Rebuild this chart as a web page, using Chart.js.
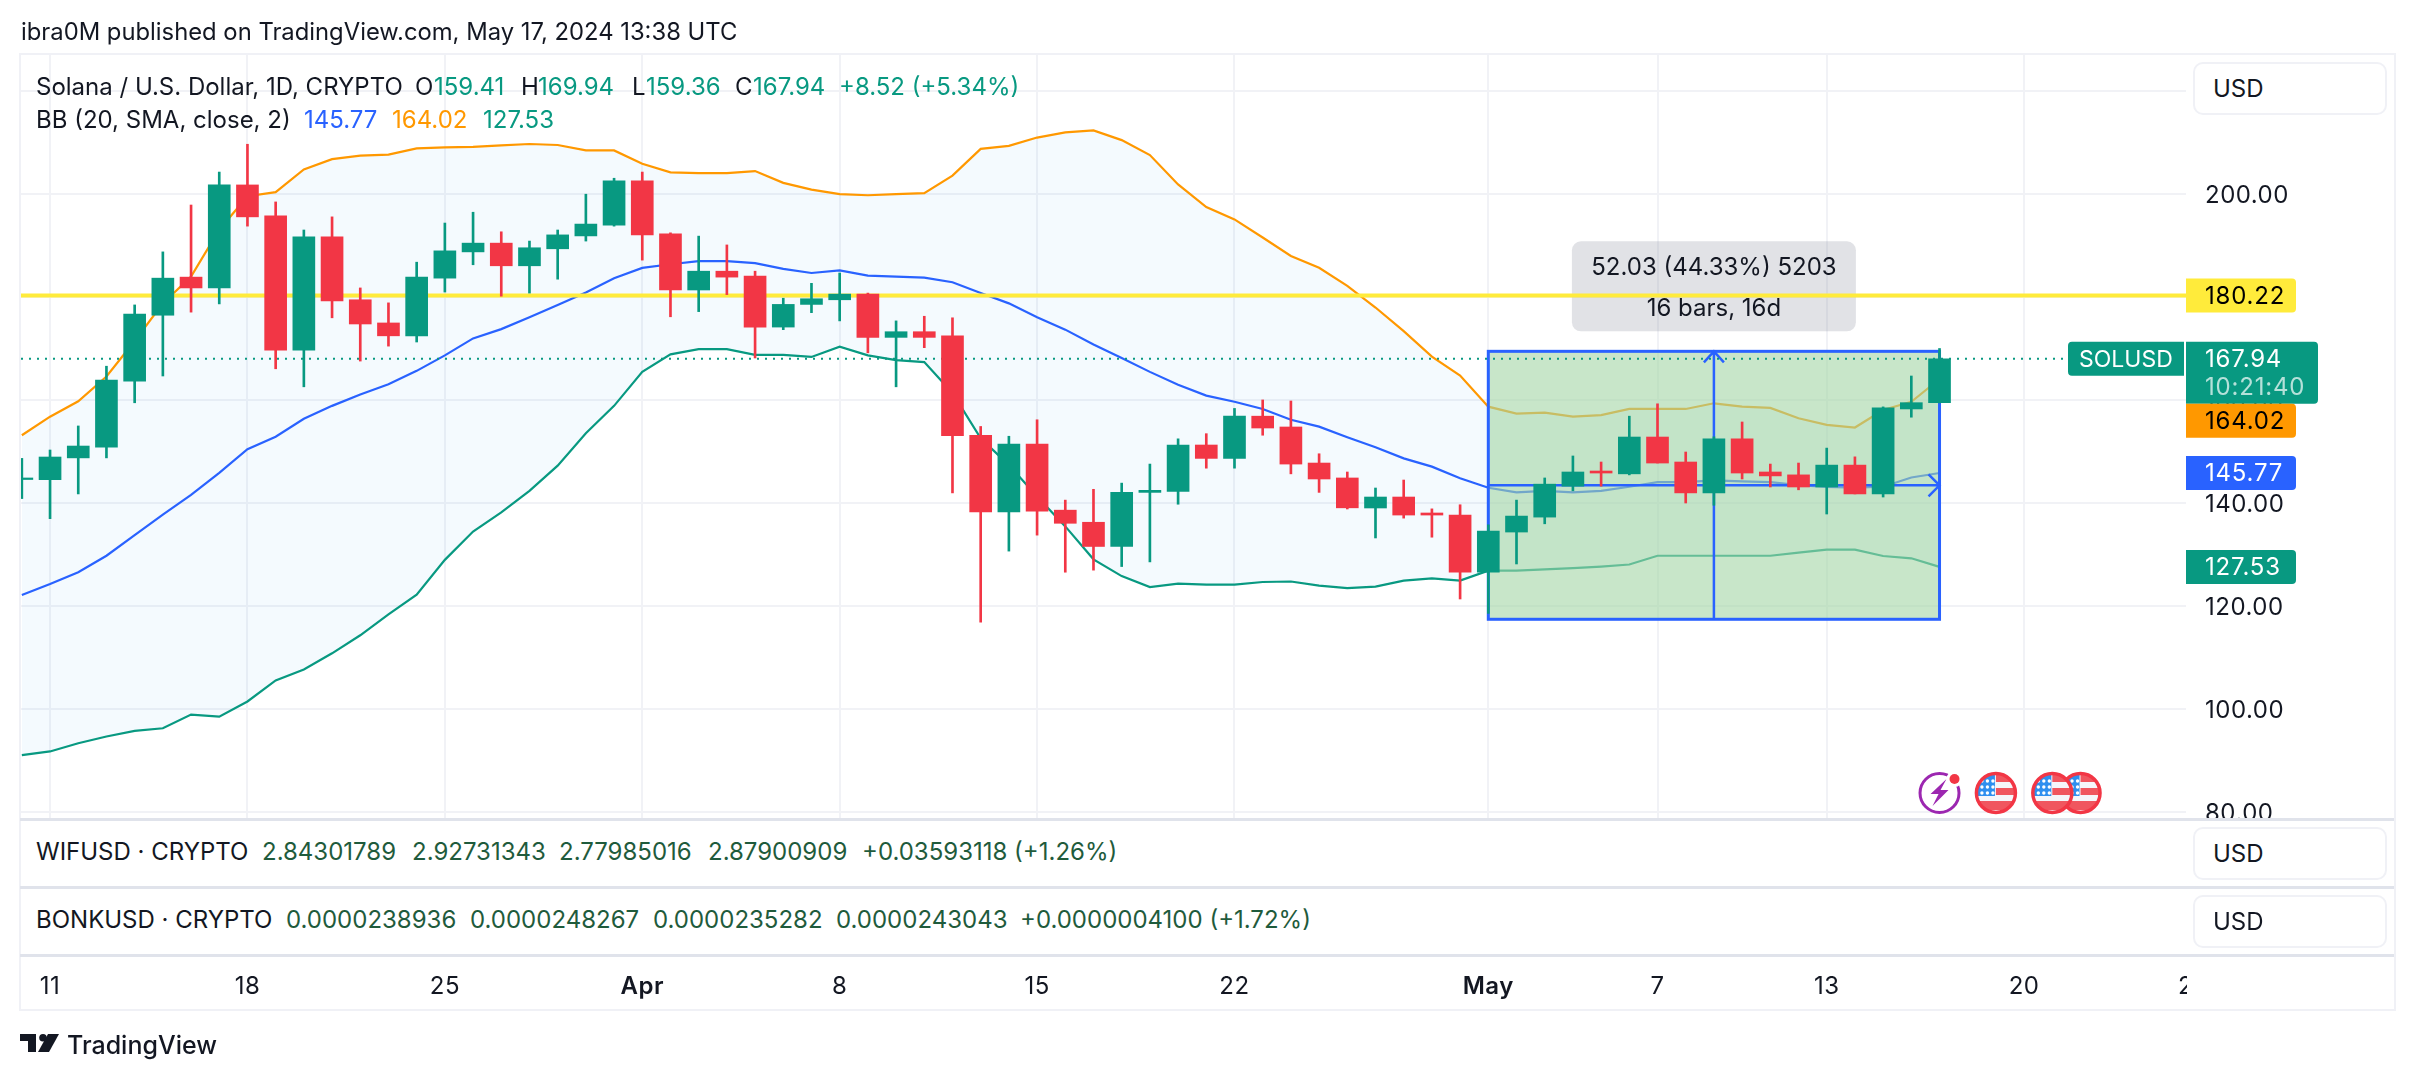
<!DOCTYPE html>
<html>
<head>
<meta charset="utf-8">
<title>SOLUSD</title>
<script src="https://cdn.jsdelivr.net/npm/chart.js@4/dist/chart.umd.js"></script>
<style>
    html, body { margin: 0; padding: 0; background: #fff; }
    body { width: 2414px; height: 1080px; position: relative; overflow: hidden; font-family: Inter, "Noto Sans", sans-serif; color: #131722; }
    canvas { position: absolute; left: 0; top: 0; }
    .t { position: absolute; white-space: nowrap; transform: translateY(-50%); font-size: 24px; line-height: 28px; }
    .box { position: absolute; box-sizing: border-box; }
    .usd { position: absolute; box-sizing: border-box; left: 2193px; width: 194px; height: 53px; border: 2px solid #f0f1f6; border-radius: 10px; background: #fff; }
</style>
</head>
<body>
<canvas id="chart" width="2414" height="1080"></canvas>
<div id="overlay"></div>
<script>
// Serie diaria SOLUSD, 10 mar a 17 may 2024
const dates = [
    '03-10','03-11','03-12','03-13','03-14','03-15','03-16','03-17','03-18','03-19','03-20','03-21','03-22','03-23','03-24','03-25','03-26','03-27','03-28','03-29','03-30','03-31',
    '04-01','04-02','04-03','04-04','04-05','04-06','04-07','04-08','04-09','04-10','04-11','04-12','04-13','04-14','04-15','04-16','04-17','04-18','04-19','04-20','04-21','04-22','04-23','04-24','04-25','04-26','04-27','04-28','04-29','04-30',
    '05-01','05-02','05-03','05-04','05-05','05-06','05-07','05-08','05-09','05-10','05-11','05-12','05-13','05-14','05-15','05-16','05-17'
];
const opens = [
    144.5,144.47,148.7,150.8,163.6,176.4,183.8,181.7,201.7,195.7,169.6,191.6,179.4,174.9,172.4,183.6,188.7,190.4,186.0,189.3,191.8,193.9,
    202.5,192.2,181.3,184.95,184.0,174.1,178.5,179.4,180.5,172.1,173.2,172.4,153.1,138.2,151.4,138.55,136.2,131.5,142.0,142.2,151.2,148.6,156.8,154.7,147.7,144.8,138.97,141.1,138.0,137.6,
    126.5,134.3,137.2,143.2,146.15,145.6,152.75,147.9,141.9,152.4,145.96,145.4,143.05,147.3,141.7,158.2,159.41
];
const closes = [
    144.8,148.87,151.0,163.8,176.6,183.6,181.7,201.7,195.5,169.6,191.6,179.2,174.7,172.4,183.8,188.9,190.4,186.0,189.5,192.0,194.1,202.5,
    192.0,181.3,184.95,183.8,174.1,178.5,179.6,180.5,172.1,173.2,172.1,153.0,138.2,151.4,138.35,136.0,131.5,142.0,142.4,151.2,148.6,156.8,154.5,147.5,144.6,139.0,141.1,137.6,137.6,126.5,
    134.5,137.4,143.6,145.96,145.76,152.75,147.7,141.9,152.4,145.76,145.2,143.05,147.3,141.7,158.4,159.42,167.94
];
const highs = [
    148.6,150.23,154.9,166.5,178.4,188.7,197.8,204.2,209.6,198.4,192.95,195.5,181.7,178.8,186.7,194.3,196.4,192.6,190.8,192.95,199.9,203.0,
    204.2,192.4,191.76,190.05,184.95,179.7,182.6,184.6,180.7,175.3,176.2,175.9,154.8,152.9,156.1,140.5,142.6,143.8,147.5,152.4,153.4,158.3,159.95,159.75,149.5,145.96,142.85,144.4,138.8,139.6,
    135.7,140.5,144.8,149.07,147.9,156.8,159.2,149.84,152.8,155.67,147.5,147.7,150.6,148.9,158.6,164.6,169.94
];
const lows = [
    140.8,136.9,141.7,148.7,159.4,164.6,177.0,178.6,193.7,166.0,162.5,175.9,167.5,170.4,171.2,180.9,186.2,180.1,180.7,183.4,190.8,193.7,
    187.1,176.1,177.1,180.4,168.1,173.6,176.9,175.3,169.1,162.5,170.1,141.9,116.8,130.6,133.7,126.5,126.9,127.6,128.5,139.7,146.7,146.7,153.1,145.6,142.0,138.78,133.15,137.0,133.3,121.3,
    118.5,128.1,135.9,142.3,143.2,145.4,147.7,139.94,139.5,144.6,143.05,142.5,137.8,141.7,141.1,156.6,159.36
];

// Bandas de Bollinger
const bbUpper = [
    153.1,156.7,159.7,164.5,171.4,178.7,183.9,193.0,199.5,200.3,204.7,206.7,207.4,207.6,208.8,209.0,209.1,209.4,209.65,209.45,208.4,208.4,
    205.8,204.15,204.0,204.0,204.4,202.1,200.8,199.9,199.7,199.9,200.1,203.5,208.7,209.3,210.9,211.9,212.3,210.4,207.5,201.8,197.4,195.0,191.5,187.9,185.6,182.1,177.9,173.3,168.35,164.7,
    158.65,157.3,157.5,156.7,157.0,158.2,158.2,158.2,159.3,158.65,158.4,156.4,155.1,154.6,158.0,159.6,164.02
];
const bbBasis = [
    122.07,124.2,126.5,129.7,133.7,137.7,141.5,145.8,150.4,152.8,156.3,158.8,161.0,163.0,165.6,168.6,171.9,173.7,176.0,178.4,180.8,183.6,
    185.6,186.3,186.9,186.9,186.5,185.4,184.6,185.1,184.1,183.9,183.7,182.8,180.7,178.7,176.0,173.6,170.7,168.1,165.4,162.9,160.8,159.6,158.2,156.1,154.76,152.7,150.75,148.6,147.0,144.75,
    142.9,142.0,142.3,142.0,142.3,143.1,144.0,144.0,144.35,144.15,144.0,143.4,143.05,142.9,143.1,144.9,145.77
];
const bbLower = [
    91.0,91.7,93.3,94.6,95.7,96.2,98.85,98.45,101.4,105.5,107.6,110.75,114.25,118.3,122.15,128.9,134.4,138.1,142.3,147.2,153.5,158.8,
    165.4,168.8,169.8,169.8,168.7,168.7,168.3,170.3,168.6,167.7,167.3,161.3,152.5,147.3,141.2,135.4,129.0,125.75,123.6,124.3,124.1,124.1,124.6,124.7,123.9,123.4,123.7,124.86,125.3,124.86,
    126.8,126.8,127.05,127.3,127.6,128.0,129.7,129.7,129.7,129.7,129.7,130.3,130.9,130.9,129.65,129.2,127.53
];

// Ejes
const priceTicks = [80, 100, 120, 140, 160, 180, 200, 220];
const tickDates = ['03-11','03-18','03-25','04-01','04-08','04-15','04-22','05-01','05-07','05-13','05-20','05-26'];
const tickLabels = ['11','18','25','Apr','8','15','22','May','7','13','20','26'];

// Niveles y dibujos
const hLine = 180.22;
const lastClose = 167.94;
const measureFrom = '05-01';
const measureTo = '05-17';
const measureLow = 117.36;
const measureHigh = 169.39;
const eventDates = ['05-17', '05-22', '05-21', '05-19'];

const GREEN = '#089981', RED = '#f23645', BLUE = '#2962ff', ORANGE = '#ff9800', YELLOW = '#ffeb3b';
const FONT = 'Inter, "Noto Sans", sans-serif';

function dayOf(d) {
    const [m, day] = d.split('-').map(Number);
    return (Date.UTC(2024, m - 1, day) - Date.UTC(2024, 2, 10)) / 864e5;
}
const days = dates.map(dayOf);
const xMin = -0.03, xMax = 76.74, yMin = 78.58, yMax = 226.93;

function series(values) { return values.map((v, i) => ({ x: days[i], y: v })); }
const candleColors = closes.map((c, i) => c >= opens[i] ? GREEN : RED);

function roundBox(ctx, x, y, w, h, r, fill) {
    ctx.beginPath();
    ctx.roundRect(x, y, w, h, r);
    ctx.fillStyle = fill;
    ctx.fill();
}

// Caja de medicion: va debajo de las velas y encima de las bandas
const measurePlugin = {
    id: 'measure',
    afterDatasetDraw(chart, args) {
        if (chart.data.datasets[args.index].label !== 'BB lower') return;
        const { ctx, scales: { x, y } } = chart;
        const x0 = x.getPixelForValue(dayOf(measureFrom)), x1 = x.getPixelForValue(dayOf(measureTo));
        const y0 = y.getPixelForValue(measureHigh), y1 = y.getPixelForValue(measureLow);
        const xm = (x0 + x1) / 2, ym = (y0 + y1) / 2;
        ctx.save();
        ctx.fillStyle = 'rgba(163,213,165,0.6)';
        ctx.fillRect(x0, y0, x1 - x0, y1 - y0);
        ctx.strokeStyle = BLUE;
        ctx.lineWidth = 3;
        ctx.strokeRect(x0, y0, x1 - x0, y1 - y0);
        ctx.lineWidth = 2.5;
        ctx.beginPath();
        ctx.moveTo(xm, y1); ctx.lineTo(xm, y0);
        ctx.moveTo(xm - 10, y0 + 11); ctx.lineTo(xm, y0); ctx.lineTo(xm + 10, y0 + 11);
        ctx.moveTo(x0, ym); ctx.lineTo(x1, ym);
        ctx.moveTo(x1 - 11, ym - 11); ctx.lineTo(x1, ym); ctx.lineTo(x1 - 11, ym + 11);
        ctx.stroke();
        // etiqueta
        roundBox(ctx, xm - 142, y0 - 110, 284, 90, 9, 'rgba(120,123,140,0.22)');
        ctx.fillStyle = '#131722';
        ctx.font = '24px ' + FONT;
        ctx.letterSpacing = '0px';
        ctx.textAlign = 'center';
        ctx.textBaseline = 'middle';
        ctx.fillText('52.03 (44.33%) 5203', xm, y0 - 84);
        ctx.fillText('16 bars, 16d', xm, y0 - 43);
        ctx.restore();
    }
};

function priceTag(ctx, right, y, text, fill, color) {
    const h = 34;
    roundBox(ctx, 2186, y - h / 2, right - 2186, h, [0, 4, 4, 0], fill);
    ctx.fillStyle = color;
    ctx.fillText(text, 2205, y + 1);
}

function drawFlag(ctx, cx, cy) {
    const r = 19.5;
    ctx.save();
    ctx.beginPath(); ctx.arc(cx, cy, r, 0, Math.PI * 2);
    ctx.fillStyle = '#f5f6fa'; ctx.fill();
    ctx.clip();
    ctx.fillStyle = '#f0565f';
    ctx.fillRect(cx, cy - 18, 20, 7);
    ctx.fillRect(cx, cy - 5, 20, 7);
    ctx.fillRect(cx - 20, cy + 8, 40, 9);
    ctx.fillStyle = '#2f8fef';
    ctx.fillRect(cx - 20, cy - 18, 19, 21);
    ctx.fillStyle = '#fff';
    for (let i = 0; i < 3; i++) {
        for (let j = 0; j < 3; j++) {
            ctx.beginPath(); ctx.arc(cx - 14 + i * 5.5, cy - 12 + j * 6, 1.7, 0, Math.PI * 2); ctx.fill();
        }
    }
    ctx.restore();
    ctx.beginPath(); ctx.arc(cx, cy, r, 0, Math.PI * 2);
    ctx.strokeStyle = RED; ctx.lineWidth = 3.5; ctx.stroke();
}

function drawBolt(ctx, cx, cy) {
    ctx.beginPath(); ctx.arc(cx, cy, 19.5, 0, Math.PI * 2);
    ctx.strokeStyle = '#9c27b0'; ctx.lineWidth = 3; ctx.stroke();
    ctx.beginPath();
    ctx.moveTo(cx + 7, cy - 14); ctx.lineTo(cx - 9, cy + 1); ctx.lineTo(cx - 1, cy + 1);
    ctx.lineTo(cx - 7, cy + 13); ctx.lineTo(cx + 9, cy - 3); ctx.lineTo(cx + 1, cy - 3);
    ctx.closePath();
    ctx.fillStyle = '#9c27b0'; ctx.fill();
    ctx.beginPath(); ctx.arc(cx + 15, cy - 14, 8, 0, Math.PI * 2);
    ctx.fillStyle = '#fff'; ctx.fill();
    ctx.beginPath(); ctx.arc(cx + 15, cy - 14, 5, 0, Math.PI * 2);
    ctx.fillStyle = RED; ctx.fill();
}

// Etiquetas del eje de precios y marcadores de eventos
const axisTagsPlugin = {
    id: 'axisTags',
    beforeDraw(chart) { chart.ctx.letterSpacing = '0.5px'; },
    afterDraw(chart) {
        const { ctx, scales: { x, y } } = chart;
        ctx.save();
        ctx.font = '23px ' + FONT;
        ctx.letterSpacing = '0px';
        ctx.textAlign = 'left';
        ctx.textBaseline = 'middle';

        const yClose = y.getPixelForValue(lastClose);
        roundBox(ctx, 2068, yClose - 17, 116, 34, [4, 0, 0, 4], GREEN);
        ctx.fillStyle = '#fff';
        ctx.fillText('SOLUSD', 2079, yClose + 1);

        ctx.font = '24px ' + FONT;
        ctx.letterSpacing = '0.8px';
        priceTag(ctx, 2296, y.getPixelForValue(hLine), '180.22', YELLOW, '#000');
        roundBox(ctx, 2186, yClose - 17, 132, 62, [0, 4, 4, 0], GREEN);
        ctx.fillStyle = '#fff';
        ctx.fillText('167.94', 2205, yClose + 1);
        ctx.fillStyle = 'rgba(255,255,255,0.7)';
        ctx.fillText('10:21:40', 2205, yClose + 29);
        // BB superior va corrida debajo del precio, como en el original
        priceTag(ctx, 2296, yClose + 62, '164.02', ORANGE, '#000');
        priceTag(ctx, 2296, y.getPixelForValue(bbBasis[bbBasis.length - 1]), '145.77', BLUE, '#fff');
        priceTag(ctx, 2296, y.getPixelForValue(bbLower[bbLower.length - 1]), '127.53', GREEN, '#fff');
        ctx.restore();

        ctx.save();
        const yEvent = chart.chartArea.bottom - 26;
        drawBolt(ctx, x.getPixelForValue(dayOf(eventDates[0])), yEvent);
        eventDates.slice(1).forEach(d => drawFlag(ctx, x.getPixelForValue(dayOf(d)), yEvent));
        ctx.restore();
    }
};

function lineSet(label, data, color, order, extra) {
    return Object.assign({ type: 'line', label, data, borderColor: color, borderWidth: 2.2, pointRadius: 0, tension: 0, fill: false, order }, extra);
}

new Chart(document.getElementById('chart'), {
    type: 'bar',
    data: {
        datasets: [
            lineSet('BB upper', series(bbUpper), ORANGE, 9, { fill: { target: 2 }, backgroundColor: 'rgba(33,150,243,0.05)' }),
            lineSet('BB basis', series(bbBasis), BLUE, 8),
            lineSet('BB lower', series(bbLower), GREEN, 7),
            lineSet('Level', [{ x: xMin, y: hLine }, { x: xMax, y: hLine }], YELLOW, 5, { borderWidth: 4 }),
            lineSet('Last', [{ x: xMin, y: lastClose }, { x: xMax, y: lastClose }], GREEN, 4, { borderWidth: 2, borderDash: [2, 6] }),
            {
                label: 'Wicks', order: 3, grouped: false, barThickness: 2, borderWidth: 0,
                backgroundColor: candleColors,
                data: days.map((d, i) => ({ x: d, y: [lows[i], highs[i]] }))
            },
            {
                label: 'Bodies', order: 2, grouped: false, barThickness: 22, borderWidth: 0,
                backgroundColor: candleColors,
                data: days.map((d, i) => ({ x: d, y: [opens[i], closes[i]] }))
            }
        ]
    },
    options: {
        responsive: false,
        animation: false,
        devicePixelRatio: 1,
        layout: { autoPadding: false, padding: { left: 21, top: 55, right: 0, bottom: 0 } },
        plugins: { legend: { display: false }, tooltip: { enabled: false } },
        scales: {
            x: {
                type: 'linear',
                min: xMin,
                max: xMax,
                offset: false,
                afterBuildTicks(scale) { scale.ticks = tickDates.map(d => ({ value: dayOf(d) })); },
                afterFit(scale) { scale.height = 261; scale.paddingLeft = 0; scale.paddingRight = 0; },
                border: { display: false },
                grid: {
                    offset: false,
                    drawTicks: false,
                    lineWidth: 2,
                    color: c => (c.tick && c.tick.value > xMax) ? 'rgba(0,0,0,0)' : '#f1f2f6'
                },
                ticks: {
                    autoSkip: false,
                    maxRotation: 0,
                    padding: 153,
                    color: '#131722',
                    font: c => ({ family: FONT, size: 24, weight: (c.tick && /[A-Z]/.test(c.tick.label)) ? '600' : '400' }),
                    callback: (v) => tickLabels[tickDates.findIndex(d => dayOf(d) === v)]
                }
            },
            y: {
                type: 'linear',
                position: 'right',
                min: yMin,
                max: yMax,
                afterBuildTicks(scale) { scale.ticks = priceTicks.map(v => ({ value: v })); },
                afterFit(scale) { scale.width = 228; scale.paddingTop = 0; scale.paddingBottom = 0; },
                border: { display: false },
                grid: { drawTicks: false, lineWidth: 2, color: '#f1f2f6' },
                ticks: {
                    padding: 19,
                    labelOffset: 2,
                    color: '#131722',
                    font: { family: FONT, size: 24 },
                    callback: v => v === 220 ? '' : v.toFixed(2)
                }
            }
        }
    },
    plugins: [measurePlugin, axisTagsPlugin]
});

// Texto y marcos de TradingView alrededor del canvas
const overlay = document.getElementById('overlay');
function addText(x, y, text, color, weight, size) {
    const el = document.createElement('div');
    el.className = 't';
    el.style.left = x + 'px';
    el.style.top = y + 'px';
    el.style.color = color || '#131722';
    if (weight) el.style.fontWeight = weight;
    if (size) el.style.fontSize = size + 'px';
    el.textContent = text;
    overlay.appendChild(el);
}
function addBox(x, y, w, h, bg) {
    const el = document.createElement('div');
    el.className = 'box';
    el.style.cssText = `left:${x}px;top:${y}px;width:${w}px;height:${h}px;background:${bg}`;
    overlay.appendChild(el);
}
function addUsd(y) {
    const el = document.createElement('div');
    el.className = 'usd';
    el.style.top = y + 'px';
    overlay.appendChild(el);
    addText(2213, y + 27, 'USD');
}

// paneles vacios: tapan la mitad baja del 80.00 y el final del ultimo tick
addBox(20, 820, 2374, 135, '#fff');
addBox(2187, 957, 207, 52, '#fff');
addBox(20, 53, 2376, 2, '#f0f1f6');
addBox(19, 53, 2, 958, '#f0f1f6');
addBox(2394, 53, 2, 958, '#f0f1f6');
addBox(20, 1009, 2376, 2, '#f0f1f6');
addBox(20, 818, 2374, 3, '#e0e3eb');
addBox(20, 886, 2374, 3, '#e0e3eb');
addBox(20, 954, 2374, 3, '#e0e3eb');

addUsd(62);
addUsd(827);
addUsd(895);

addText(21, 32, 'ibra0M published on TradingView.com, May 17, 2024 13:38 UTC', null, null, 23.8);

addText(36, 87, 'Solana / U.S. Dollar, 1D, CRYPTO');
addText(415, 87, 'O'); addText(434, 87, '159.41', GREEN);
addText(521, 87, 'H'); addText(538, 87, '169.94', GREEN);
addText(632, 87, 'L'); addText(646, 87, '159.36', GREEN);
addText(735, 87, 'C'); addText(753, 87, '167.94', GREEN);
addText(839, 87, '+8.52 (+5.34%)', GREEN);

addText(36, 120, 'BB (20, SMA, close, 2)');
addText(304, 120, '145.77', BLUE);
addText(392, 120, '164.02', ORANGE);
addText(483, 120, '127.53', GREEN);

const ROW_GREEN = '#1f5b3c';
addText(36, 852, 'WIFUSD · CRYPTO');
addText(262, 852, '2.84301789', ROW_GREEN);
addText(412, 852, '2.92731343', ROW_GREEN);
addText(559, 852, '2.77985016', ROW_GREEN);
addText(708, 852, '2.87900909', ROW_GREEN);
addText(862, 852, '+0.03593118 (+1.26%)', ROW_GREEN);

addText(36, 920, 'BONKUSD · CRYPTO');
addText(286, 920, '0.0000238936', ROW_GREEN);
addText(470, 920, '0.0000248267', ROW_GREEN);
addText(653, 920, '0.0000235282', ROW_GREEN);
addText(836, 920, '0.0000243043', ROW_GREEN);
addText(1020, 920, '+0.0000004100 (+1.72%)', ROW_GREEN);

// logo
overlay.insertAdjacentHTML('beforeend',
    '<svg style="position:absolute;left:20px;top:1034px" width="40" height="20" viewBox="0 0 40 20">' +
    '<path d="M0 0H16V18H8V7H0Z" fill="#131722"/><circle cx="23" cy="3.8" r="3.8" fill="#131722"/>' +
    '<path d="M28 0H39L29 18H18Z" fill="#131722"/></svg>');
addText(67, 1045, 'TradingView', '#131722', '500', 25);
</script>
</body>
</html>
